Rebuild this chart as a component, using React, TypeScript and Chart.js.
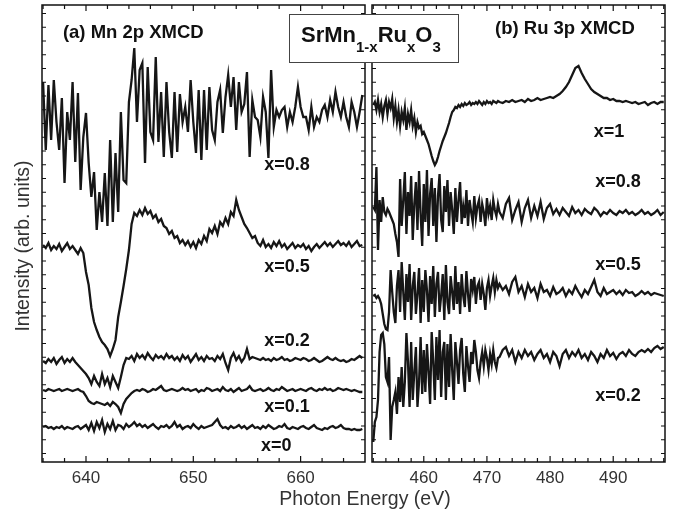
import React, { useEffect, useRef } from 'react';
import { Chart, registerables } from 'chart.js';

Chart.register(...registerables);

const FONT = '"Liberation Sans", Arial, Helvetica, sans-serif';

// ---------- Mn 2p XMCD (panel a) ----------
const mnEnergy = [
  636, 636.25, 636.5, 636.75, 637, 637.25, 637.5, 637.75, 638, 638.25, 638.5, 638.75, 639, 639.25, 639.5, 639.75,
  640, 640.25, 640.5, 640.75, 641, 641.25, 641.5, 641.75, 642, 642.25, 642.5, 642.75, 643, 643.25, 643.5, 643.75,
  644, 644.25, 644.5, 644.75, 645, 645.25, 645.5, 645.75, 646, 646.25, 646.5, 646.75, 647, 647.25, 647.5, 647.75,
  648, 648.25, 648.5, 648.75, 649, 649.25, 649.5, 649.75, 650, 650.25, 650.5, 650.75, 651, 651.25, 651.5, 651.75,
  652, 652.25, 652.5, 652.75, 653, 653.25, 653.5, 653.75, 654, 654.25, 654.5, 654.75, 655, 655.25, 655.5, 655.75,
  656, 656.25, 656.5, 656.75, 657, 657.25, 657.5, 657.75, 658, 658.25, 658.5, 658.75, 659, 659.25, 659.5, 659.75,
  660, 660.25, 660.5, 660.75, 661, 661.25, 661.5, 661.75, 662, 662.25, 662.5, 662.75, 663, 663.25, 663.5, 663.75,
  664, 664.25, 664.5, 664.75, 665, 665.25, 665.5, 665.75,
];

const mnX08 = [
  380, 312, 377, 322, 382, 340, 312, 364, 279, 350, 322, 380, 300, 369, 272, 325,
  349, 299, 265, 290, 232, 270, 240, 289, 236, 322, 240, 309, 250, 350, 282, 279,
  360, 382, 414, 340, 392, 399, 299, 395, 330, 322, 405, 320, 370, 305, 380, 330,
  304, 370, 310, 368, 340, 355, 330, 382, 340, 309, 372, 302, 372, 312, 375, 332,
  322, 360, 372, 329, 365, 387, 355, 385, 332, 380, 350, 358, 390, 305, 362, 345,
  342, 325, 365, 350, 304, 392, 335, 352, 345, 352, 355, 335, 350, 340, 355, 375,
  355, 345, 345, 332, 355, 335, 345, 340, 352, 357, 345, 362, 350, 370, 355, 345,
  360, 345, 335, 360, 350, 335, 350, 367,
];

const mnX05 = [
  217, 214, 219, 212, 216, 213, 218, 211, 215, 219, 213, 216, 212, 208, 214, 209,
  190, 177, 154, 140, 132, 125, 120, 117, 113, 106, 113, 122, 145, 160, 176, 193,
  212, 238, 249, 246, 252, 247, 254, 248, 251, 244, 247, 240, 243, 236, 234, 228,
  231, 224, 226, 219, 222, 217, 221, 215, 220, 214, 222, 218, 226, 221, 233, 229,
  236, 228, 240, 236, 244, 238, 250, 246, 262, 252, 245, 238, 234, 229, 224, 226,
  219, 216, 222, 215, 218, 214, 220, 216, 221, 215, 218, 213, 216, 219, 214, 217,
  215, 218, 213, 216, 211, 215, 218, 214, 217, 220, 216, 219, 215, 218, 221, 217,
  219, 216, 220, 215, 218, 221, 216, 217,
];

const mnX02 = [
  101, 99, 103, 100, 104, 98, 102, 105, 99, 103, 100, 104, 100, 97, 94, 91,
  88, 84, 78, 86, 80, 76, 88, 78, 84, 75, 86, 80, 74, 85, 97, 104,
  103, 106, 101, 108, 104, 107, 103, 109, 105, 102, 107, 104, 106, 103, 108, 104,
  106, 102, 105, 101, 107, 103, 106, 100, 104, 108, 102, 105, 101, 106, 103, 104,
  101, 106, 103, 108, 99, 92, 104, 109, 102, 106, 100, 104, 113, 103, 105, 104,
  103, 102, 104, 102, 103, 101, 104, 102, 103, 105, 102, 103, 101, 102, 104, 103,
  102, 104, 103, 101, 102, 104, 102, 100, 101, 103, 105, 103, 102, 104, 102, 101,
  102, 100, 101, 103, 102, 104, 106, 104,
];

const mnX01 = [
  72, 71, 73, 72, 71, 72, 73, 71, 72, 73, 72, 71, 72, 73, 71, 70,
  66, 61, 59, 58, 60, 59, 58, 57, 59, 56, 60, 58, 55, 49, 58, 63,
  66, 69, 71, 72, 71, 73, 72, 70, 71, 73, 72, 74, 76, 72, 71, 72,
  73, 72, 71, 72, 74, 72, 73, 71, 72, 73, 70, 72, 71, 74, 73, 71,
  72, 73, 71, 75, 72, 71, 73, 70, 72, 74, 71, 72, 73, 76, 72, 71,
  72, 73, 71, 72, 74, 72, 71, 73, 72, 75, 73, 71, 72, 73, 71, 72,
  73, 72, 71, 73, 74, 72, 71, 73, 72, 74, 72, 73, 71, 72, 74, 73,
  72, 73, 72, 71, 72, 71, 70, 70,
];

const mnX00 = [
  35, 36, 34, 35, 33, 35, 34, 36, 33, 35, 34, 33, 35, 36, 33, 35,
  37, 32, 39, 31, 40, 34, 42, 30, 38, 33, 41, 32, 37, 36, 33, 38,
  35, 37, 40, 36, 38, 35, 37, 34, 36, 38, 35, 33, 36, 35, 37, 34,
  36, 40, 35, 37, 33, 35, 36, 34, 38, 35, 33, 36, 34, 35, 36, 37,
  40, 43, 37, 34, 35, 33, 36, 34, 35, 37, 34, 36, 33, 35, 37, 34,
  35, 33, 36, 34, 37, 35, 33, 34, 36, 35, 38, 34, 33, 35, 34, 33,
  35, 36, 34, 33, 35, 37, 34, 33, 32, 34, 33, 35, 36, 34, 35, 37,
  34, 33, 33, 32, 33, 32, 32, 33,
];

// ---------- Ru 3p XMCD (panel b) ----------
const ruEnergy = [
  452, 452.25, 452.5, 452.75, 453, 453.25, 453.5, 453.75, 454, 454.25, 454.5, 454.75, 455, 455.25, 455.5, 455.75,
  456, 456.25, 456.5, 456.75, 457, 457.25, 457.5, 457.75, 458, 458.25, 458.5, 458.75, 459, 459.25, 459.5, 459.75,
  460, 460.25, 460.5, 460.75, 461, 461.25, 461.5, 461.75, 462, 462.25, 462.5, 462.75, 463, 463.25, 463.5, 463.75,
  464, 464.25, 464.5, 464.75, 465, 465.25, 465.5, 465.75, 466, 466.25, 466.5, 466.75, 467, 467.25, 467.5, 467.75,
  468, 468.25, 468.5, 468.75, 469, 469.25, 469.5, 469.75, 470, 470.25, 470.5, 470.75, 471, 471.25, 471.5, 471.75,
  472,
  472.5, 473, 473.5, 474, 474.5, 475, 475.5, 476, 476.5, 477, 477.5, 478, 478.5, 479, 479.5, 480,
  480.5, 481, 481.5, 482, 482.5, 483, 483.5, 484, 484.5, 485, 485.5, 486, 486.5, 487, 487.5, 488,
  488.5, 489, 489.5, 490, 490.5, 491, 491.5, 492, 492.5, 493, 493.5, 494, 494.5, 495, 495.5, 496,
  496.5, 497, 497.5, 498,
];

const ruX10 = [
  357, 360, 352, 362, 350, 358, 345, 356, 362, 348, 360, 354, 363, 344, 356, 340,
  352, 336, 350, 342, 354, 332, 348, 340, 352, 336, 344, 330, 340, 334, 336, 328,
  330, 326, 322, 318, 312, 306, 301, 297, 300, 305, 311, 316, 321, 325, 329, 334,
  339, 345, 350, 352, 355, 354, 357, 355, 358, 356, 359, 357, 358, 360, 357, 359,
  358, 360, 358, 361, 359, 357, 360, 358, 361, 359, 360, 358, 361, 360, 359, 361,
  360,
  359, 361, 360, 362, 360, 361, 362, 360, 363, 361, 362, 364, 362, 363, 364, 365,
  364, 366, 368, 371, 375, 380, 387, 394, 396, 389, 383, 378, 373, 370, 368, 366,
  364, 364, 362, 363, 361, 361, 360, 361, 360, 359, 360, 358, 359, 360, 357, 359,
  360, 358, 360, 360,
];

const ruX08 = [
  255, 252, 295, 212, 262, 240, 265, 250, 247, 253, 250, 246, 242, 238, 228, 220,
  205, 283, 236, 262, 290, 228, 270, 246, 286, 222, 258, 280, 232, 291, 248, 216,
  278, 240, 292, 226, 268, 284, 236, 274, 220, 266, 288, 242, 230, 276, 250, 282,
  236, 270, 252, 228, 274, 240, 262, 280, 238, 256, 244, 272, 236, 262, 250, 240,
  266, 244, 256, 262, 240, 258, 250, 236, 264, 248, 256, 242, 262, 252, 246, 258,
  250,
  244, 258, 264, 242, 252, 260, 240, 254, 262, 244, 256, 246, 260, 243, 254, 258,
  248, 253, 247, 254, 250, 246, 255, 249, 252, 247, 253, 250, 248, 254, 251, 246,
  250, 248, 252, 249, 247, 251, 249, 252, 248, 250, 247, 249, 252, 248, 250, 247,
  249, 252, 247, 250,
];

const ruX05 = [
  166, 167, 164, 166, 163, 158, 148, 138, 133, 132, 150, 192, 170, 150, 139, 176,
  192, 150, 200, 170, 142, 188, 160, 198, 142, 176, 190, 148, 168, 194, 139, 182,
  150, 192, 172, 140, 186, 158, 196, 145, 178, 190, 150, 166, 188, 142, 197, 160,
  148, 186, 170, 152, 196, 158, 180, 148, 188, 166, 155, 191, 168, 150, 183, 172,
  185, 158, 176, 180, 162, 178, 168, 152, 174, 182, 166, 176, 184, 170, 182, 174,
  178,
  172, 176, 168, 180, 185, 170, 176, 165, 178, 170, 174, 164, 178, 170, 172, 166,
  175, 168, 170, 174, 166, 172, 168, 176, 170, 165, 172, 168, 175, 182, 170, 166,
  174, 168, 170, 172, 168, 171, 167, 172, 169, 170, 166, 168, 171, 168, 170, 167,
  169, 168, 167, 166,
];

const ruX02 = [
  20, 40, 45, 62, 110, 127, 129, 118, 85, 80, 105, 22, 55, 62, 70, 48,
  85, 60, 95, 55, 80, 129, 100, 55, 120, 62, 90, 115, 55, 80, 125, 68,
  112, 70, 118, 90, 58, 130, 100, 62, 125, 82, 132, 65, 110, 120, 62, 118,
  75, 128, 92, 62, 120, 100, 78, 112, 124, 88, 70, 116, 96, 80, 110, 98,
  122, 110, 92, 84, 100, 110, 96, 112, 104, 92, 108, 98, 112, 100, 94, 104,
  105,
  112, 115, 106, 112, 100, 110, 104, 112, 106, 110, 102, 108, 112, 104, 108, 100,
  110, 106, 96, 108, 112, 104, 110, 106, 112, 104, 108, 102, 110, 106, 100, 108,
  104, 112, 106, 109, 103, 108, 110, 106, 112, 108, 106, 110, 112, 110, 113, 110,
  114, 116, 113, 115,
];

// ---------- axes / labels ----------
const mnRange = [635.9, 666.0];
const ruRange = [451.8, 498.2];
const yRange = [0, 457];
const mnTicks = [640, 650, 660];
const ruTicks = [460, 470, 480, 490];

const mnLabels = ['x=0.8', 'x=0.5', 'x=0.2', 'x=0.1', 'x=0'];
const mnLabelE = [656.6, 656.6, 656.6, 656.6, 656.3];
const mnLabelV = [296.5, 194.5, 121, 54.5, 16];
const ruLabels = ['x=1', 'x=0.8', 'x=0.5', 'x=0.2'];
const ruLabelE = [486.9, 487.15, 487.15, 487.15];
const ruLabelV = [329.5, 279.5, 197, 66];

const mnTitle = '(a) Mn 2p XMCD';
const ruTitle = '(b) Ru 3p XMCD';
const xTitle = 'Photon Energy (eV)';
const yTitle = 'Intensity (arb. units)';
const formula = [
  ['SrMn', false],
  ['1-x', true],
  ['Ru', false],
  ['x', true],
  ['O', false],
  ['3', true],
] as [string, boolean][];

const LINE = '#161616';

function makeDatasets(energy: number[], series: number[][]) {
  return series.map((ys) => ({
    data: ys.map((y, i) => ({ x: energy[i], y })),
    borderColor: LINE,
    borderWidth: 2.3,
    pointRadius: 0,
    fill: false,
    tension: 0,
  }));
}

function panelPlugin(p: any) {
  return {
    id: 'panel_' + p.id,
    afterDraw(chart: any) {
      const { ctx, chartArea: a, scales } = chart;
      const xs = scales.x;
      const ys = scales.y;
      ctx.save();
      ctx.strokeStyle = '#111';
      ctx.lineWidth = 1.5;
      ctx.strokeRect(a.left, a.top, a.right - a.left, a.bottom - a.top);
      ctx.lineWidth = 1.2;
      ctx.beginPath();
      for (let e = p.minorStart; e <= xs.max; e += 2) {
        const px = xs.getPixelForValue(e);
        if (px <= a.left + 1 || px >= a.right - 1) continue;
        const len = e % 10 === 0 ? 6 : 4;
        ctx.moveTo(px, a.bottom);
        ctx.lineTo(px, a.bottom - len);
        ctx.moveTo(px, a.top);
        ctx.lineTo(px, a.top + len);
      }
      for (let v = 8.5; v < ys.max - 2; v += 13.75) {
        const py = ys.getPixelForValue(v);
        ctx.moveTo(a.left, py);
        ctx.lineTo(a.left + 4, py);
        ctx.moveTo(a.right, py);
        ctx.lineTo(a.right - 4, py);
      }
      ctx.stroke();

      ctx.fillStyle = '#111';
      ctx.textAlign = 'left';
      ctx.textBaseline = 'middle';
      ctx.font = `bold 18px ${FONT}`;
      p.labels.forEach((t: string, i: number) => {
        ctx.fillText(t, xs.getPixelForValue(p.labelE[i]), ys.getPixelForValue(p.labelV[i]));
      });
      ctx.font = `bold 18.5px ${FONT}`;
      ctx.fillText(p.title, xs.getPixelForValue(p.titleE), ys.getPixelForValue(p.titleV));
      if (p.extra) p.extra(ctx, chart);
      ctx.restore();
    },
  };
}

function buildConfig(energy: number[], series: number[][], range: number[], ticks: number[], padding: any, plugin: any) {
  return {
    type: 'line' as const,
    data: { datasets: makeDatasets(energy, series) },
    options: {
      animation: false,
      responsive: false,
      maintainAspectRatio: false,
      layout: { padding },
      plugins: { legend: { display: false }, tooltip: { enabled: false } },
      scales: {
        x: {
          type: 'linear',
          min: range[0],
          max: range[1],
          afterBuildTicks: (ax: any) => {
            ax.ticks = ticks.map((v) => ({ value: v }));
          },
          afterFit: (ax: any) => {
            ax.height = 53;
          },
          grid: { display: false, drawTicks: false },
          border: { display: false },
          ticks: {
            padding: 6,
            color: '#333',
            autoSkip: false,
            maxRotation: 0,
            font: { family: FONT, size: 17 },
          },
        },
        y: { type: 'linear', min: yRange[0], max: yRange[1], display: false },
      },
    },
    plugins: [plugin],
  };
}

export default function App() {
  const leftRef = useRef<HTMLCanvasElement>(null);
  const rightRef = useRef<HTMLCanvasElement>(null);

  useEffect(() => {
    const leftPlugin = panelPlugin({
      id: 'mn',
      minorStart: 636,
      labels: mnLabels,
      labelE: mnLabelE,
      labelV: mnLabelV,
      title: mnTitle,
      titleE: 637.85,
      titleV: 428.7,
      extra: (ctx: CanvasRenderingContext2D) => {
        ctx.fillStyle = '#333';
        ctx.font = `19.5px ${FONT}`;
        ctx.textAlign = 'center';
        ctx.textBaseline = 'middle';
        ctx.fillText(xTitle, 365, 500);
        ctx.save();
        ctx.translate(24, 246);
        ctx.rotate(-Math.PI / 2);
        ctx.fillText(yTitle, 0, 0);
        ctx.restore();
      },
    });
    const rightPlugin = panelPlugin({
      id: 'ru',
      minorStart: 452,
      labels: ruLabels,
      labelE: ruLabelE,
      labelV: ruLabelV,
      title: ruTitle,
      titleE: 471.28,
      titleV: 433.2,
      extra: (ctx: CanvasRenderingContext2D) => {
        ctx.fillStyle = '#fff';
        ctx.fillRect(289, 14, 169, 48);
        ctx.strokeStyle = '#444';
        ctx.lineWidth = 1;
        ctx.strokeRect(289.5, 14.5, 169, 48);
        ctx.fillStyle = '#111';
        ctx.textAlign = 'left';
        ctx.textBaseline = 'alphabetic';
        let x = 301;
        formula.forEach(([t, sub]) => {
          ctx.font = sub ? `bold 15px ${FONT}` : `bold 22px ${FONT}`;
          ctx.fillText(t, x, sub ? 52 : 42);
          x += ctx.measureText(t).width;
        });
      },
    });

    const c1 = new Chart(
      leftRef.current as HTMLCanvasElement,
      buildConfig(mnEnergy, [mnX08, mnX05, mnX02, mnX01, mnX00], mnRange, mnTicks,
        { left: 42, right: 308, top: 5, bottom: 0 }, leftPlugin) as any
    );
    const c2 = new Chart(
      rightRef.current as HTMLCanvasElement,
      buildConfig(ruEnergy, [ruX10, ruX08, ruX05, ruX02], ruRange, ruTicks,
        { left: 372, right: 8, top: 5, bottom: 0 }, rightPlugin) as any
    );
    return () => {
      c1.destroy();
      c2.destroy();
    };
  }, []);

  return (
    <div style={{ position: 'absolute', left: 0, top: 0, width: 673, height: 515, background: '#fff' }}>
      <canvas ref={leftRef} width={673} height={515} style={{ position: 'absolute', left: 0, top: 0 }} />
      <canvas ref={rightRef} width={673} height={515} style={{ position: 'absolute', left: 0, top: 0 }} />
    </div>
  );
}
